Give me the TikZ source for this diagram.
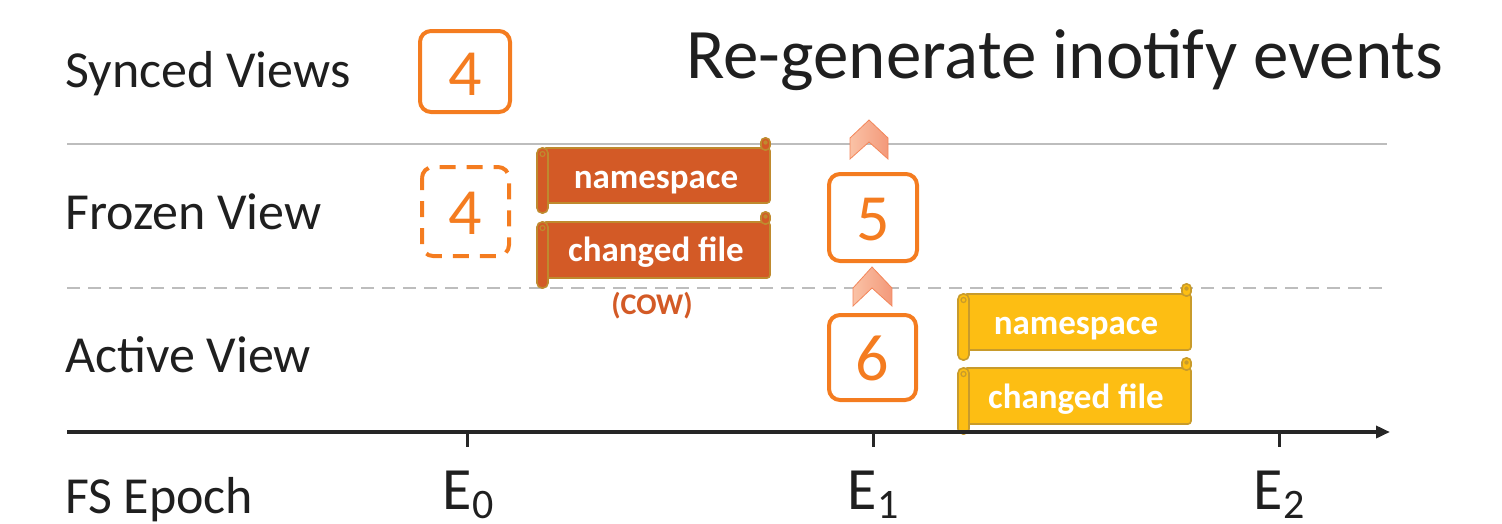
\documentclass[tikz,border=0pt]{standalone}
\usepackage{fontspec}
\setmainfont{Carlito}
\usetikzlibrary{arrows.meta,shadings}
\definecolor{boxorange}{HTML}{F47C20}
\definecolor{scrollor}{HTML}{D35A26}
\definecolor{scrollorb}{HTML}{BF8A2E}
\definecolor{scrollye}{HTML}{FDBE13}
\definecolor{scrollyeb}{HTML}{C89B2B}
\definecolor{chevl}{HTML}{FAC2A6}
\definecolor{chevr}{HTML}{F3997A}
\definecolor{chevd}{HTML}{F3865A}
\definecolor{linegray}{HTML}{BDBDBD}
\definecolor{axisblack}{HTML}{262626}
\newcommand{\myscroll}[6]{%
  % #1 x0, #2 y0, #3 x1, #4 y1, #5 fill, #6 border
  \draw[#6,fill=#5,line width=1.6pt,rounded corners=3pt] (#1+6,#2+10) rectangle (#3,#4-10);
  \draw[#6,fill=#5,line width=1.6pt,rounded corners=4pt] (#3-9,#2) rectangle (#3,#2+12);
  \fill[#6] (#3-4.5,#2+4.5) circle (2.2pt);
  \draw[#6,fill=#5,line width=1.6pt,rounded corners=5pt] (#1,#2+10) rectangle (#1+11,#4);
  \draw[#6,line width=1.2pt] (#1+5.5,#2+16) circle (2.5pt);
}
\tikzset{
  lbl/.style={anchor=base west,inner sep=0pt,font=\fontsize{52}{60}\selectfont,text=black!88},
  numbox/.style={draw=boxorange,line width=4pt,rounded corners=11pt},
  numtxt/.style={anchor=base,inner sep=0pt,text=boxorange,font=\fontsize{66}{70}\selectfont},
  scrolltxt/.style={anchor=base,inner sep=0pt,text=white,font=\fontsize{35}{40}\selectfont\bfseries},
  chev/.style={left color=chevl,right color=chevr,draw=chevd,line width=0.8pt},
  epoch/.style={anchor=base,inner sep=0pt,font=\fontsize{60}{64}\selectfont,text=black!88},
  tick/.style={axisblack,line width=3pt},
}
\begin{document}
\begin{tikzpicture}[x=1pt,y=-1pt]
\useasboundingbox (0,0) rectangle (1502,523);
% lines
\coordinate (sl0) at (67,144); \coordinate (sl1) at (1387,144);
\coordinate (dl0) at (67,288); \coordinate (dl1) at (1387,288);
\draw[linegray,line width=2pt] (sl0) -- (sl1);
\draw[linegray,line width=2pt,dash pattern=on 13pt off 8pt] (dl0) -- (dl1);
% labels
\node[lbl] (synced) at (65,87) {Synced Views};
\node[lbl] (frozen) at (65,229) {Frozen View};
\node[lbl] (active) at (65,372) {Active View};
\node[lbl] (fsepoch) at (65,513) {FS Epoch};
\node[anchor=base west,inner sep=0pt,font=\fontsize{71}{76}\selectfont,text=black!88] (title) at (686,78) {Re-generate inotify events};
% number boxes
\draw[numbox] (420,31) rectangle (510,112);
\node[numtxt] (n4a) at (465,95) {4};
\draw[numbox,dash pattern=on 16pt off 11pt,dash phase=4pt] (422,167) rectangle (509,256);
\node[numtxt] (n4b) at (465,234) {4};
\draw[numbox] (829,174) rectangle (917,261);
\node[numtxt] (n5) at (873,240) {5};
\draw[numbox] (829,315) rectangle (916,400);
\node[numtxt] (n6) at (872,380) {6};
% chevrons
\draw[chev] (869,120) -- (888,138) -- (888,159) -- (869,142) -- (850,159) -- (850,138) -- cycle;
\draw[chev] (872,267) -- (892,288) -- (892,306) -- (872,288) -- (853,306) -- (853,288) -- cycle;
% scrolls
\myscroll{537}{138}{770}{213}{scrollor}{scrollorb}
\myscroll{537}{212}{770}{288}{scrollor}{scrollorb}
\myscroll{958}{284}{1191}{360}{scrollye}{scrollyeb}
\myscroll{958}{358}{1191}{434}{scrollye}{scrollyeb}
\node[scrolltxt] (ns1) at (656,188) {namespace};
\node[scrolltxt] (cf1) at (656,261) {changed file};
\node[anchor=base,inner sep=0pt,text=scrollor,font=\fontsize{30}{32}\selectfont\bfseries] (cow) at (652,314) {(COW)};
\node[scrolltxt] (ns2) at (1076,334) {namespace};
\node[scrolltxt] (cf2) at (1076,408) {changed file};
% axis
\coordinate (ax0) at (67,432); \coordinate (ax1) at (1390,432);
\draw[axisblack,line width=3.5pt,-{Triangle[length=14pt,width=12pt]}] (ax0) -- (ax1);
\coordinate (t0) at (467,432); \coordinate (t1) at (873,432); \coordinate (t2) at (1279,432);
\draw[tick] (t0) -- ++(0,15);
\draw[tick] (t1) -- ++(0,15);
\draw[tick] (t2) -- ++(0,15);
\node[epoch] (e0) at (468,509) {E\raisebox{-9pt}{\fontsize{42}{44}\selectfont 0}};
\node[epoch] (e1) at (873,509) {E\raisebox{-9pt}{\fontsize{42}{44}\selectfont 1}};
\node[epoch] (e2) at (1279,509) {E\raisebox{-9pt}{\fontsize{42}{44}\selectfont 2}};
\end{tikzpicture}
\end{document}
